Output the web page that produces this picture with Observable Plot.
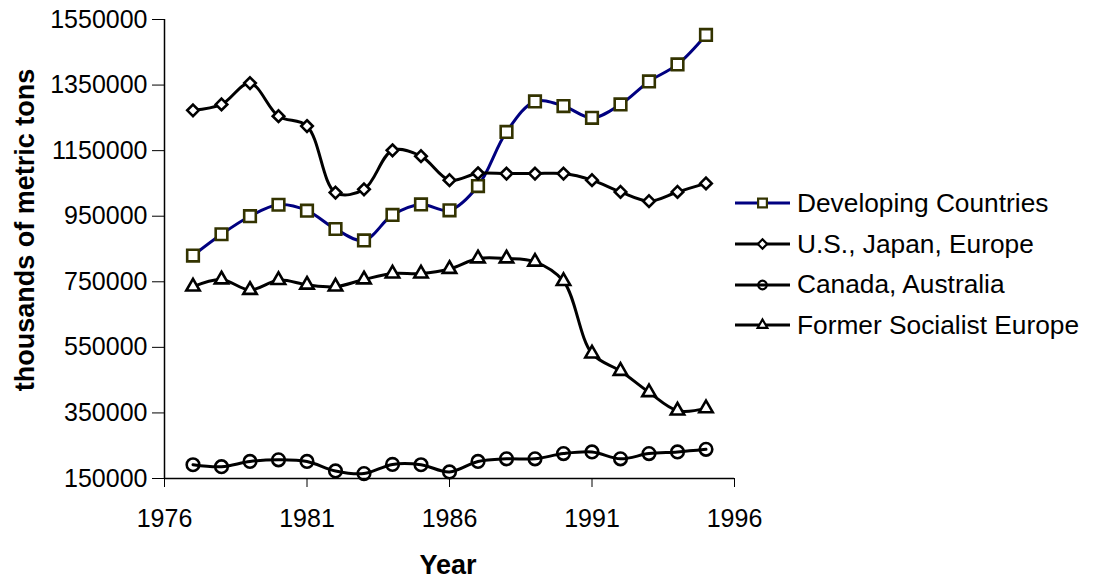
<!DOCTYPE html>
<html>
<head>
<meta charset="utf-8">
<script src="https://cdn.jsdelivr.net/npm/d3@7"></script>
<script src="https://cdn.jsdelivr.net/npm/@observablehq/plot@0.6"></script>
<style>
  html, body { margin: 0; padding: 0; background: #fff; }
  body { font-family: "Liberation Sans", Arial, sans-serif; }
  #wrap { position: relative; width: 1093px; height: 578px; overflow: hidden; }
  .ytitle { position: absolute; left: 25px; top: 230px; transform: translate(-50%, -50%) rotate(-90deg);
            font-weight: bold; font-size: 27px; white-space: nowrap; color: #000; }
  .xtitle { position: absolute; left: 448px; top: 565px; transform: translate(-50%, -50%);
            font-weight: bold; font-size: 27px; white-space: nowrap; color: #000; }
  #legend { position: absolute; left: 735px; top: 183px; }
  .lrow { display: flex; align-items: center; height: 40.7px; }
  .lrow svg { flex: none; }
  .lrow span { font-size: 26.3px; margin-left: 6px; white-space: nowrap; color: #000; }
</style>
</head>
<body>
<div id="wrap"></div>
<script>
// ---- data ----
const years = [1977,1978,1979,1980,1981,1982,1983,1984,1985,1986,1987,1988,1989,1990,1991,1992,1993,1994,1995];
const developing      = [830000,895000,950000,985000,967000,911000,876000,954000,986000,968000,1042000,1207000,1300000,1286000,1250000,1291000,1361000,1413000,1503000];
const usJapanEurope   = [1273000,1291000,1356000,1255000,1225000,1022000,1032000,1151000,1133000,1060000,1081000,1080000,1080000,1080000,1060000,1024000,996000,1024000,1050000];
const canadaAustralia = [192000,186000,202000,207000,202000,173000,165000,193000,192000,170000,202000,210000,210000,226000,231000,210000,226000,231000,239000];
const formerSocialist = [735000,757000,725000,755000,741000,735000,757000,775000,775000,789000,821000,821000,811000,752000,531000,478000,413000,357000,364000];

const seriesNames   = ["Developing Countries","U.S., Japan, Europe","Canada, Australia","Former Socialist Europe"];
const seriesValues  = [developing, usJapanEurope, canadaAustralia, formerSocialist];
const lineColors    = ["#000080","#000000","#000000","#000000"];
const markerColors  = ["#333300","#000000","#000000","#000000"];
const markerFills   = ["#ffffff","#ffffff","none","#ffffff"];
const markerSymbols = ["square2","diamond2","circle","triangle2"];
const markerRadius  = [7.4,5.2,6.3,6.4];

const xTicks = [1976,1981,1986,1991,1996];
const yTicks = [150000,350000,550000,750000,950000,1150000,1350000,1550000];

const rows = [];
seriesNames.forEach((name, i) => {
  years.forEach((yr, j) => rows.push({series: name, idx: i, year: yr, value: seriesValues[i][j]}));
});

const marks = [];
seriesNames.forEach((name, i) => {
  const data = rows.filter(d => d.idx === i);
  marks.push(Plot.line(data, {x: "year", y: "value", stroke: lineColors[i], strokeWidth: 3, curve: "catmull-rom"}));
  marks.push(Plot.dot(data, {x: "year", y: "value", symbol: markerSymbols[i], r: markerRadius[i],
    stroke: markerColors[i], fill: markerFills[i], strokeWidth: 2.6}));
});

const chart = Plot.plot({
  width: 1093,
  height: 578,
  marginLeft: 164,
  marginRight: 359,
  marginTop: 19,
  marginBottom: 100,
  style: {fontFamily: '"Liberation Sans", Arial, sans-serif', fontSize: "25px", background: "#fff", color: "#000", overflow: "visible"},
  x: {domain: [xTicks[0], xTicks[xTicks.length - 1]]},
  y: {domain: [yTicks[0], yTicks[yTicks.length - 1]]},
  marks: [
    Plot.ruleX([xTicks[0]], {stroke: "#000", strokeWidth: 1.5}),
    Plot.ruleY([yTicks[0]], {stroke: "#000", strokeWidth: 1.5}),
    Plot.axisY({ticks: yTicks, tickFormat: d => String(d), tickSize: 12, tickPadding: 5, label: null, fontSize: 25}),
    Plot.axisX({ticks: xTicks, tickFormat: d => String(d), tickSize: 9, tickPadding: 22, label: null, fontSize: 25}),
    ...marks
  ]
});

const wrap = document.getElementById("wrap");
wrap.appendChild(chart);

const yt = document.createElement("div");
yt.className = "ytitle"; yt.textContent = "thousands of metric tons";
wrap.appendChild(yt);
const xt = document.createElement("div");
xt.className = "xtitle"; xt.textContent = "Year";
wrap.appendChild(xt);

// legend
const legend = document.createElement("div");
legend.id = "legend";
const symMap = {square2: d3.symbolSquare2, diamond2: d3.symbolDiamond2, circle: d3.symbolCircle, triangle2: d3.symbolTriangle2};
const legR = [5.6, 4.2, 4.3, 4.6];
seriesNames.forEach((name, i) => {
  const row = document.createElement("div");
  row.className = "lrow";
  const svg = d3.create("svg").attr("width", 56).attr("height", 20);
  svg.append("line").attr("x1", 0).attr("x2", 55).attr("y1", 10).attr("y2", 10)
     .attr("stroke", lineColors[i]).attr("stroke-width", 3);
  svg.append("path").attr("transform", "translate(27.5,10)")
     .attr("d", d3.symbol(symMap[markerSymbols[i]], Math.PI * legR[i] * legR[i])())
     .attr("stroke", markerColors[i]).attr("stroke-width", 2.2)
     .attr("fill", markerFills[i] === "none" ? "none" : "#fff");
  row.appendChild(svg.node());
  const t = document.createElement("span");
  t.textContent = name;
  row.appendChild(t);
  legend.appendChild(row);
});
wrap.appendChild(legend);
</script>
</body>
</html>
